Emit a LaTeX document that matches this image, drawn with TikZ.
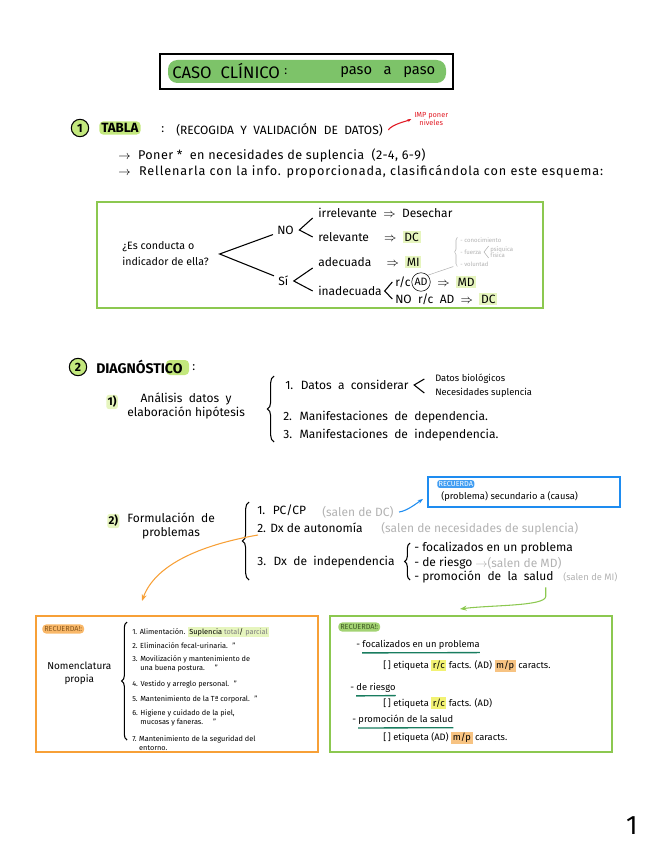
\documentclass[tikz,border=0pt]{standalone}
\usepackage{fontspec}
\setmainfont{Fira Sans}
\usetikzlibrary{arrows.meta,decorations.pathreplacing}

\definecolor{verdetitulo}{RGB}{125,195,105}
\definecolor{verdecaja}{RGB}{140,200,80}
\definecolor{lima}{RGB}{195,232,125}
\definecolor{limaclaro}{RGB}{230,245,190}
\definecolor{naranja}{RGB}{247,160,55}
\definecolor{naranjaclaro}{RGB}{247,195,130}
\definecolor{azul}{RGB}{30,140,240}
\definecolor{rojo}{RGB}{225,25,35}
\definecolor{amarillo}{RGB}{242,242,115}
\definecolor{verdeazul}{RGB}{25,125,95}

\newcommand{\resaltar}[2]{{\setlength{\fboxsep}{1.2pt}\colorbox{#1}{#2}}}

\tikzset{
  texto/.style={anchor=west, inner sep=0pt, font=\fontsize{9}{10.5}\selectfont},
  ancho/.style={anchor=west, inner sep=0pt,
    font=\fontsize{9.5}{11}\selectfont\addfontfeatures{LetterSpace=#1}},
  ancho/.default=4,
  medio/.style={anchor=west, inner sep=0pt, font=\fontsize{7}{8}\selectfont},
  chico/.style={anchor=west, inner sep=0pt, font=\fontsize{5.5}{6.8}\selectfont},
  mini/.style={anchor=west, inner sep=0pt, font=\fontsize{4.5}{5}\selectfont, text=gray!60},
  gris/.style={text=gray!60},
  encabezado/.style={anchor=west, inner sep=1.5pt, rounded corners=3pt, fill=#1,
    font=\bfseries\fontsize{10}{11}\selectfont},
  encabezado/.default=lima,
  numero/.style={circle, draw, thick, fill=lima, inner sep=0pt, minimum size=13pt,
    font=\bfseries\fontsize{9}{9}\selectfont},
  llave/.style={decorate, decoration={brace, amplitude=#1}, thick},
  caja/.style={draw=#1, line width=1.5pt, minimum width=211.5pt, minimum height=102pt,
    inner sep=0pt},
}

\begin{document}
\begin{tikzpicture}[x=0.75pt, y=-0.75pt]
\useasboundingbox (0,0) rectangle (656,848);

% ── Título ────────────────────────────────────────────────────
\fill[verdetitulo, rounded corners=7pt] (168,60) rectangle (446,83);
\draw[line width=2pt] (160,54) rectangle (453,89);
\node[texto, font=\fontsize{12.5}{13}\selectfont] (caso) at (172,71) {CASO \ CLÍNICO};
\node[texto] (dospuntos) at (284,72) {:};
\node[texto, font=\fontsize{11}{12}\selectfont] (paso) at (340,72) {paso \ \ a \ \ paso};

% ── 1 · Tabla ─────────────────────────────────────────────────
\node[numero] (uno) at (80,128) {1};
\node[encabezado] (tabla) at (99,128) {TABLA};
\node[texto] (dp1) at (161,130) {:};
\node[texto, font=\fontsize{9}{9}\selectfont] (recogida) at (176,130)
    {(RECOGIDA \ Y \ VALIDACIÓN \ DE \ DATOS)};
\node[texto, text=rojo, align=center, font=\fontsize{5.5}{5.5}\selectfont] (imp) at (414,119)
    {IMP poner\\niveles};
\draw[rojo, thick, -{Stealth[length=3pt]}] ([xshift=4pt]recogida.east)
    .. controls +(4,-6) and +(-4,2) .. ([xshift=-2pt]imp.west);

\node[ancho=3] (poner) at (118,155)
    {$\rightarrow$ \ Poner * \ en necesidades de suplencia \ (2-4, 6-9)};
\node[ancho=7] (rellenar) at (118,172)
    {$\rightarrow$ \ Rellenarla con la info. proporcionada, clasificándola con este esquema:};

% ── Esquema de clasificación ──────────────────────────────────
\draw[verdecaja, line width=1.5pt] (97,202) rectangle (543,308);
\node[texto, align=left, font=\fontsize{8}{12}\selectfont] (pregunta) at (122,254)
    {¿Es conducta o\\indicador de ella?};
\node[texto] (no) at (277,230) {NO};
\node[texto] (si) at (278,281) {Sí};
\node[texto] (irrelevante) at (318,213) {irrelevante \ $\Rightarrow$ \ Desechar};
\node[texto] (relevante) at (318,237) {relevante \quad $\Rightarrow$ \ \resaltar{limaclaro}{DC}};
\node[texto] (adecuada) at (318,262) {adecuada \quad $\Rightarrow$ \ \resaltar{limaclaro}{MI}};
\node[texto] (inadecuada) at (318,291) {inadecuada};
\node[texto] (rc) at (395,282) {r/c};
\node[circle, draw, inner sep=1pt, font=\fontsize{8}{8}\selectfont] (ad) at (421,282) {AD};
\node[texto] (md) at (437,282) {$\Rightarrow$ \ \resaltar{limaclaro}{MD}};
\node[texto] (norc) at (395,299) {NO \ r/c \ AD \ $\Rightarrow$ \ \resaltar{limaclaro}{DC}};

\draw[thick] ([xshift=-3pt]no.south west) -- ([xshift=8pt]pregunta.east) -- ([xshift=-3pt]si.north west);
\draw[thick] ([xshift=-4pt]irrelevante.south west) -- ([xshift=4pt]no.east) -- ([xshift=-4pt]relevante.west);
\draw[thick] ([xshift=-4pt]adecuada.south west) -- ([xshift=4pt]si.east) -- ([xshift=-4pt]inadecuada.west);
\draw[thick] ([xshift=-2pt]rc.west) -- ([xshift=2pt]inadecuada.east) -- ([xshift=-2pt]norc.west);

% nota gris sobre AD
\node[mini] (conocimiento) at (460,240) {- conocimiento};
\node[mini] (fuerza) at (460,252) {- fuerza};
\node[mini, align=left] (psiquica) at (490,252) {psíquica\\física};
\node[mini] (voluntad) at (460,264) {- voluntad};
\draw[gray!60, thin] ([xshift=-1pt]psiquica.north west) -- ([xshift=2pt]fuerza.east)
    -- ([xshift=-1pt]psiquica.south west);
\draw[llave=2pt, gray!60, thin] ([xshift=-2pt]voluntad.south west) -- ([xshift=-2pt]conocimiento.north west);
\draw[gray!60] (ad.north east) -- ([xshift=-5pt]voluntad.south west);

% ── 2 · Diagnóstico ───────────────────────────────────────────
\node[numero] (dos) at (78,367) {2};
\fill[lima, rounded corners=3pt] (166,360) rectangle (189,375);
\node[texto, font=\bfseries\fontsize{10.5}{11}\selectfont] (diagnostico) at (96,367) {DIAGNÓSTICO};
\node[texto] (dp2) at (192,368) {:};

% 1) análisis
\node[texto, fill=limaclaro, inner sep=1pt, rounded corners=2pt, font=\bfseries\fontsize{8.5}{10}\selectfont]
    (paso1) at (106,402) {1)};
\node[texto, align=center] (analisis) at (127,406) {Análisis \ datos \ y\\elaboración hipótesis};
\draw[llave=5pt] (274,442) -- (274,376);
\node[texto] (datos) at (285,385) {1. \ Datos \ a \ considerar};
\node[medio] (biologicos) at (435,379) {Datos biológicos};
\node[medio] (suplencia) at (435,393) {Necesidades suplencia};
\draw[thick] ([xshift=-8pt]biologicos.west) -- ([xshift=4pt]datos.east) -- ([xshift=-8pt]suplencia.west);
\node[texto] (dependencia) at (283,417) {2. \ Manifestaciones \ de \ dependencia.};
\node[texto] (independencia) at (283,435) {3. \ Manifestaciones \ de \ independencia.};

% 2) formulación
\node[texto, fill=limaclaro, inner sep=1pt, rounded corners=2pt, font=\bfseries\fontsize{8.5}{10}\selectfont]
    (paso2) at (107,521) {2)};
\node[texto, align=center] (formulacion) at (127,526) {Formulación \ de\\problemas};
\draw[llave=5pt] (249,580) -- (249,502);
\node[texto] (pccp) at (257,510) {1. \ PC/CP};
\node[texto, gris] (salenDC) at (322,512) {(salen de DC)};
\node[texto] (dxauto) at (257,528) {2. Dx de autonomía};
\node[texto, gris] (salenNec) at (381,529) {(salen de necesidades de suplencia)};
\node[texto] (dxindep) at (257,562) {3. \ Dx \ de \ independencia};
\draw[llave=4pt] (410,580) -- (410,543);
\node[texto] (focalizados) at (414,548) {- focalizados en un problema};
\node[texto] (riesgo) at (414,563) {- de riesgo};
\node[texto, gris] (salenMD) at (475,563) {$\rightarrow$(salen de MD)};
\node[texto] (promocion) at (414,577) {- promoción \ de \ la \ salud};
\node[medio, gris] (salenMI) at (563,577) {(salen de MI)};

% ── Recuerda (azul) ───────────────────────────────────────────
\node[caja=azul, minimum width=144pt, minimum height=23pt] (cajaAzul) at (524,492) {};
\node[chico, fill=azul!85, text=white, rounded corners=2pt, inner sep=1pt] (recuerdaAzul) at (437,484) {RECUERDA};
\node[medio] (secundario) at (441,497) {(problema) secundario a (causa)};
\draw[azul, thick, -{Stealth[length=4pt]}] ([xshift=4pt]salenDC.east)
    .. controls +(8,-1) and +(-6,4) .. ([shift={(-4,7)}]cajaAzul.west);

% ── Recuerda (naranja): nomenclatura ──────────────────────────
\node[caja=naranja] (cajaNaranja) at (177,684) {};
\draw[naranja, thick, -{Stealth[length=5pt]}] ([shift={(1,7)}]dxauto.west)
    .. controls (200,545) and (155,565) .. ([shift={(107,-14)}]cajaNaranja.north west);
\node[chico, fill=naranja!75, text=naranja!55!black, rounded corners=3pt, inner sep=1.5pt]
    (recuerdaNar) at (42,629) {RECUERDA!:};
\node[texto, align=center, font=\fontsize{7.5}{9.5}\selectfont] (nomenclatura) at (47,673) {Nomenclatura\\propia};
\draw[llave=4pt] (127,740) -- (127,622);
\node[chico] (alimentacion) at (132,632)
    {1. Alimentación. \resaltar{limaclaro}{Suplencia \textcolor{gray}{total}/ \textcolor{gray}{parcial}}};
\node[chico] (eliminacion) at (132,646) {2. Eliminación fecal-urinaria. \ "};
\node[chico, align=left] (movilizacion) at (132,664)
    {3. Movilización y mantenimiento de\\\phantom{3. }una buena postura. \quad "};
\node[chico] (vestido) at (132,684) {4. Vestido y arreglo personal. \ "};
\node[chico] (temperatura) at (132,699) {5. Mantenimiento de la Tª corporal. \ "};
\node[chico, align=left] (higiene) at (132,718)
    {6. Higiene y cuidado de la piel,\\\phantom{6. }mucosas y faneras. \quad "};
\node[chico, align=left] (seguridad) at (132,743)
    {7. Mantenimiento de la seguridad del\\\phantom{7. }entorno.};

% ── Recuerda (verde): etiquetas ───────────────────────────────
\node[caja=verdecaja] (cajaVerde) at (471,684) {};
\draw[verdecaja, thick, -{Stealth[length=5pt]}] ([shift={(-8,4)}]promocion.south east) -- ++(0,9)
    .. controls +(0,10) and +(30,-4) .. ([shift={(131,-6)}]cajaVerde.north west);
\node[chico, fill=verdecaja!80, text=verdecaja!45!black, rounded corners=3pt, inner sep=1.5pt]
    (recuerdaVer) at (338,627) {RECUERDA!:};
\node[medio] (focal) at (356,645) {- focalizados en un problema};
\node[medio] (etiqueta1) at (383,666)
    {[\,] etiqueta \resaltar{amarillo}{r/c} facts. (AD) \resaltar{naranjaclaro}{m/p} caracts.};
\node[medio] (deriesgo) at (350,688) {- de riesgo};
\node[medio] (etiqueta2) at (383,703) {[\,] etiqueta \resaltar{amarillo}{r/c} facts. (AD)};
\node[medio] (promsalud) at (352,720) {- promoción de la salud};
\node[medio] (etiqueta3) at (383,738) {[\,] etiqueta (AD) \resaltar{naranjaclaro}{m/p} caracts.};
\draw[verdeazul, line width=1pt] ([shift={(6,3)}]focal.south west) -- ([yshift=-2pt]focal.south east);
\draw[verdeazul, line width=1pt] ([shift={(6,3)}]deriesgo.south west) -- ([yshift=-2pt]deriesgo.south east);
\draw[verdeazul, line width=1pt] ([shift={(6,3)}]promsalud.south west) -- ([yshift=-2pt]promsalud.south east);

% ── Número de página ──────────────────────────────────────────
\node[font=\fontsize{20}{20}\selectfont] (pagina) at (632,826) {1};

\end{tikzpicture}
\end{document}
